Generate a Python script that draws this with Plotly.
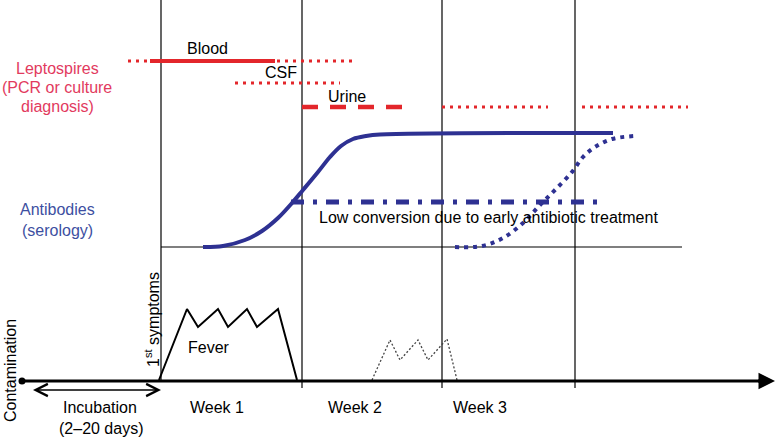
import plotly.graph_objects as go

# ---- data (diagram coordinates: x = time axis units, y = vertical units, top = 0) ----
week_lines_x = [161, 302, 442, 575]
week_lines_bottom = [381, 388, 388, 388]

blood_solid_x = [150, 275]
blood_dot_left_x = [128, 150]
blood_dot_right_x = [277, 352]
blood_y = 61
csf_dot_x = [235, 340]
csf_y = 83
urine_dash_x = [302, 402]
urine_dot1_x = [442, 548]
urine_dot2_x = [582, 688]
urine_y = 107

antibody_x = [203, 223, 245, 262, 278, 292, 303, 318, 330, 341, 353, 366, 380, 613]
antibody_y = [247, 246, 240, 231, 218, 203, 190, 172, 157, 146, 139, 136, 134.5, 133]
late_antibody_x = [455, 482, 503, 523, 540, 555, 572, 583, 595, 612, 635]
late_antibody_y = [247, 246, 238, 223, 205, 190, 172, 157, 147, 139, 136]
low_conv_x = [291, 602]
low_conv_y = 202
serology_base_x = [161, 682]
serology_base_y = 247

fever_x = [159, 187, 198, 218, 228, 247, 257, 278, 297]
fever_y = [380, 309, 327, 309, 327, 309, 327, 309, 380]
fever2_x = [372, 390, 400, 418, 428, 447, 457]
fever2_y = [380, 340, 360, 340, 360, 339, 380]

axis_start_x = 22
axis_end_x = 775
axis_y = 381
incub_x = [30, 161]
incub_y = 390

week_labels = ["Week 1", "Week 2", "Week 3"]
week_label_x = [217, 355, 480]
week_label_y = 407

RED = "#e3262b"
BLUE = "#2e3192"
PINK = "#e23a5e"
LBLUE = "#3d4fa1"
FONT = "Liberation Sans, Arial, sans-serif"

W, H = 776, 437

fig = go.Figure()

def seg(x, y, color, width, dash="solid", shape="linear"):
    fig.add_trace(go.Scatter(x=x, y=y, mode="lines", hoverinfo="skip", cliponaxis=False,
                             line=dict(color=color, width=width, dash=dash, shape=shape)))

# week verticals
for xv, yb in zip(week_lines_x, week_lines_bottom):
    seg([xv, xv], [0, yb], "black", 1.2)

# serology baseline
seg(serology_base_x, [serology_base_y] * 2, "black", 1.2)

# leptospires
seg(blood_dot_left_x, [blood_y] * 2, RED, 3, "3px,5px")
seg(blood_solid_x, [blood_y] * 2, RED, 4)
seg(blood_dot_right_x, [blood_y] * 2, RED, 3, "3px,5px")
seg(csf_dot_x, [csf_y] * 2, RED, 3, "3px,5px")
seg(urine_dash_x, [urine_y] * 2, RED, 4.5, "16px,12px")
seg(urine_dot1_x, [urine_y] * 2, RED, 3, "3px,5px")
seg(urine_dot2_x, [urine_y] * 2, RED, 3, "3px,5px")

# antibodies
seg(antibody_x, antibody_y, BLUE, 4, shape="spline")
seg(late_antibody_x, late_antibody_y, BLUE, 4, "4px,5px", shape="spline")
seg(low_conv_x, [low_conv_y] * 2, BLUE, 5, "13px,9px,4px,9px")

# fever
seg(fever_x, fever_y, "black", 2)
seg(fever2_x, fever2_y, "#444444", 1.3, "2px,2px")

# main axis
seg([axis_start_x, axis_end_x - 8], [axis_y] * 2, "black", 3)
fig.add_trace(go.Scatter(x=[axis_start_x], y=[axis_y], mode="markers", hoverinfo="skip",
                         cliponaxis=False, marker=dict(color="black", size=7)))

annotations = [
    dict(x=axis_end_x, y=axis_y, ax=axis_end_x - 20, ay=axis_y, xref="x", yref="y",
         axref="x", ayref="y", showarrow=True, arrowhead=2, arrowsize=1.1,
         arrowwidth=3, arrowcolor="black", text=" "),
    dict(x=incub_x[1], y=incub_y, ax=incub_x[0], ay=incub_y, xref="x", yref="y",
         axref="x", ayref="y", showarrow=True, arrowhead=5, startarrowhead=5,
         arrowside="end+start", arrowsize=1.6, startarrowsize=1.6,
         arrowwidth=1.5, arrowcolor="black", text=" "),
]

def label(x, y, text, color="black", size=16, xanchor="center", angle=0):
    annotations.append(dict(x=x, y=y, xref="x", yref="y", text=text, showarrow=False,
                            xanchor=xanchor, yanchor="middle", textangle=angle,
                            font=dict(family=FONT, size=size, color=color)))

label(57, 68, "Leptospires", PINK)
label(57, 87, "(PCR or culture", PINK)
label(57, 106, "diagnosis)", PINK)
label(57, 209, "Antibodies", LBLUE)
label(57, 230, "(serology)", LBLUE)
label(207, 48, "Blood")
label(281, 72, "CSF")
label(347, 96, "Urine")
label(317, 217, "Low conversion due to early antibiotic treatment", xanchor="left")
label(209, 347, "Fever")
label(152, 320, "1<sup>st</sup> symptoms", angle=-90)
label(10, 371, "Contamination", angle=-90)
for t, xv in zip(week_labels, week_label_x):
    label(xv, week_label_y, t)
label(100, 407, "Incubation")
label(101, 428, "(2–20 days)")

fig.update_layout(
    width=W, height=H, margin=dict(l=0, r=0, t=0, b=0),
    paper_bgcolor="white", plot_bgcolor="white", showlegend=False,
    xaxis=dict(range=[0, W], visible=False, fixedrange=True),
    yaxis=dict(range=[H, 0], visible=False, fixedrange=True),
    annotations=annotations,
)

fig.write_html(
    "out.html",
    config={"displayModeBar": False},
    post_script="document.body.style.margin='0';document.body.style.overflow='hidden';",
)
